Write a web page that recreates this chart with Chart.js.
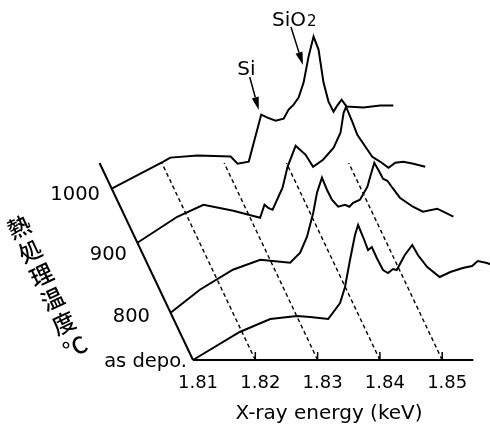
<!DOCTYPE html>
<html><head><meta charset="utf-8">
<script src="https://cdn.jsdelivr.net/npm/chart.js@4.4.1/dist/chart.umd.min.js"></script>
<style>html,body{margin:0;padding:0;background:#fff;}canvas{display:block;}</style>
</head><body>
<canvas id="c" width="490" height="428"></canvas>
<script>
// ---------------- data ----------------
const seriesNames = ['as depo.', '800', '900', '1000'];

const energyAsDepo = [1.8100,1.8175,1.8224,1.8267,1.8288,1.8317,1.8336,1.8344,1.8352,1.8360,1.8365,1.8373,1.8381,1.8387,1.8395,1.8405,1.8413,1.8421,1.8427,1.8440,1.8452,1.8461,1.8476,1.8496,1.8513,1.8533,1.8548,1.8557,1.8572,1.8580];
const intensityAsDepo = [0,2.8,4.1,4.4,4.3,4.1,5.7,7.3,10.0,12.5,13.5,12.3,11.0,11.3,10.2,9.0,8.7,9.1,9.0,10.5,11.5,10.5,9.3,8.3,8.8,9.2,9.4,9.9,9.7,9.5];

const energy800 = [1.8100,1.8147,1.8200,1.8244,1.8292,1.8308,1.8319,1.8329,1.8335,1.8343,1.8351,1.8359,1.8369,1.8380,1.8387,1.8393,1.8404,1.8416,1.8419,1.8427,1.8436,1.8441,1.8448,1.8456,1.8468,1.8489,1.8505,1.8528,1.8554];
const intensity800 = [0,2.3,4.3,5.3,5.0,6.0,7.6,10.0,12.0,13.5,12.3,11.3,10.6,10.8,10.6,11.0,11.3,12.6,13.3,15.0,14.0,13.4,13.2,12.5,11.5,10.6,10.1,10.4,9.6];

const energy900 = [1.8100,1.8164,1.8206,1.8254,1.8297,1.8304,1.8310,1.8317,1.8333,1.8341,1.8354,1.8370,1.8382,1.8398,1.8415,1.8426,1.8431,1.8435,1.8445,1.8453,1.8466,1.8477,1.8490,1.8503,1.8514,1.8527,1.8543,1.8562];
const intensity900 = [0,2.6,3.8,3.2,2.5,3.8,3.5,3.3,5.5,7.6,9.7,8.8,7.6,8.3,9.5,11.0,13.0,13.6,12.1,10.8,9.6,8.6,8.1,7.5,8.0,8.1,7.9,7.6];

const energy1000 = [1.8100,1.8183,1.8194,1.8238,1.8291,1.8302,1.8320,1.8340,1.8350,1.8363,1.8376,1.8384,1.8392,1.8400,1.8408,1.8416,1.8424,1.8432,1.8440,1.8448,1.8456,1.8462,1.8469,1.8477,1.8504,1.8531,1.8552];
const intensity1000 = [0,2.7,3.1,3.3,3.2,2.5,2.7,7.4,7.1,6.8,7.0,7.9,8.4,9.1,10.6,13.2,15.2,13.9,10.6,8.7,7.7,8.3,8.9,8.2,8.1,8.3,8.3];

const xTickValues = [1.81, 1.82, 1.83, 1.84, 1.85];
const xAxisTitle = 'X-ray energy (keV)';
const depthAxisTitle = ['熱', '処', '理', '温', '度', '°C'];

// peak markers on the 1000 spectrum: label, arrow-tip energy, arrow-tip intensity
const peakLabels = ['Si', 'SiO2'];
const peakTipEnergy = [1.8336, 1.8407];
const peakTipIntensity = [7.86, 12.36];

// ---------------- layout / pseudo-3D projection ----------------
const seriesEnergy = [energyAsDepo, energy800, energy900, energy1000];
const seriesIntensity = [intensityAsDepo, intensity800, intensity900, intensity1000];
const seriesDepth = [0, 0.24, 0.595, 0.87];      // position along the depth axis (0..1)
const DEPTH_DE = -0.0150;                         // full depth shift in energy units
const DEPTH_DI = 19.7;                            // full depth shift in intensity units
const X_MIN = 1.805987, X_MAX = 1.857672;
const Y_MIN = 0, Y_MAX = 36;
const X_AXIS_END = 1.855;
const TICK_LEN = 0.8;
const labelShift = [[-6, 7], [-20.6, 9.3], [-10.4, 17.2], [-11.7, 11.4]];
const arrowTail = [[-9, -33], [-12, -38]];
const peakLabelPos = [[-12.3, -35], [-31, -39]];
const FONT = '"DejaVu Sans", "Liberation Sans", sans-serif';

function project(E, I, d) { return { x: E + d * DEPTH_DE, y: I + d * DEPTH_DI }; }

const base = { showLine: true, pointRadius: 0, borderColor: '#000', fill: false, tension: 0, clip: false, borderWidth: 2 };
const datasets = [];
xTickValues.slice(1).forEach(t => {
  datasets.push(Object.assign({}, base, { data: [project(t, 0, 0), project(t, 0, 1)], borderDash: [4, 3], borderWidth: 1.4 }));
  datasets.push(Object.assign({}, base, { data: [{ x: t, y: 0 }, { x: t, y: TICK_LEN }], borderWidth: 1.5 }));
});
datasets.push(Object.assign({}, base, { data: [project(xTickValues[0], 0, 0), project(xTickValues[0], 0, 1)] }));
datasets.push(Object.assign({}, base, { data: [{ x: xTickValues[0], y: 0 }, { x: X_AXIS_END, y: 0 }] }));
seriesEnergy.forEach((es, i) => {
  datasets.push(Object.assign({}, base, {
    label: seriesNames[i],
    data: es.map((e, j) => project(e, seriesIntensity[i][j], seriesDepth[i]))
  }));
});

const textPlugin = {
  id: 'texts',
  afterDraw(chart) {
    const ctx = chart.ctx, xs = chart.scales.x, ys = chart.scales.y;
    const px = (E, I, d) => { const p = project(E, I, d); return [xs.getPixelForValue(p.x), ys.getPixelForValue(p.y)]; };
    ctx.save();
    ctx.fillStyle = '#000'; ctx.strokeStyle = '#000';
    // depth labels
    ctx.font = '19.5px ' + FONT;
    ctx.textAlign = 'right'; ctx.textBaseline = 'alphabetic';
    seriesNames.forEach((n, i) => {
      const [x, y] = px(xTickValues[0], 0, seriesDepth[i]);
      ctx.fillText(n, x + labelShift[i][0], y + labelShift[i][1]);
    });
    // depth axis title, written along the slanted axis
    const ang = 25 * Math.PI / 180;
    ctx.font = '500 23px "Noto Sans CJK JP", sans-serif';
    ctx.textAlign = 'center'; ctx.textBaseline = 'middle';
    depthAxisTitle.forEach((ch, i) => {
      ctx.save();
      ctx.translate(19 + i * 26.5 * Math.sin(ang), 227 + i * 26.5 * Math.cos(ang));
      ctx.rotate(-ang);
      ctx.fillText(ch, 0, 0);
      ctx.restore();
    });
    // peak arrows + labels
    const d = seriesDepth[3];
    peakLabels.forEach((lab, i) => {
      const [tx, ty] = px(peakTipEnergy[i], peakTipIntensity[i], d);
      const sx = tx + arrowTail[i][0], sy = ty + arrowTail[i][1];
      const len = Math.hypot(tx - sx, ty - sy), ux = (tx - sx) / len, uy = (ty - sy) / len;
      const hl = 13, hw = 3.6;
      ctx.lineWidth = 1.5;
      ctx.beginPath(); ctx.moveTo(sx, sy); ctx.lineTo(tx - ux * hl, ty - uy * hl); ctx.stroke();
      ctx.beginPath();
      ctx.moveTo(tx, ty);
      ctx.lineTo(tx - ux * hl - uy * hw, ty - uy * hl + ux * hw);
      ctx.lineTo(tx - ux * hl + uy * hw, ty - uy * hl - ux * hw);
      ctx.closePath(); ctx.fill();
      ctx.textBaseline = 'alphabetic';
      const lx = tx + peakLabelPos[i][0], ly = ty + peakLabelPos[i][1];
      if (lab === 'SiO2') {
        ctx.textAlign = 'left';
        ctx.font = '20px ' + FONT;
        ctx.fillText('SiO', lx, ly);
        const w = ctx.measureText('SiO').width;
        ctx.font = '15px ' + FONT;
        ctx.fillText('2', lx + w + 1, ly);
      } else {
        ctx.textAlign = 'center';
        ctx.font = '20px ' + FONT;
        ctx.fillText(lab, lx, ly);
      }
    });
    ctx.restore();
  }
};

new Chart(document.getElementById('c'), {
  type: 'scatter',
  data: { datasets },
  options: {
    responsive: false, animation: false, events: [],
    layout: { padding: { left: 168, right: 0, top: 0, bottom: 0 } },
    plugins: { legend: { display: false }, tooltip: { enabled: false } },
    scales: {
      x: {
        type: 'linear', position: 'bottom', bounds: 'data',
        afterDataLimits: s => { s.min = X_MIN; s.max = X_MAX; },
        afterBuildTicks: s => { s.min = X_MIN; s.max = X_MAX; s.ticks = xTickValues.map(v => ({ value: v })); },
        grid: { display: false, drawTicks: false },
        border: { display: false },
        afterFit: s => { s.height = 68; },
        ticks: { font: { family: FONT, size: 18 }, color: '#000', padding: 13, labelOffset: 5,
                 autoSkip: false, maxRotation: 0, callback: v => Number(v).toFixed(2) },
        title: { display: true, text: xAxisTitle, color: '#000', font: { family: FONT, size: 20 },
                 padding: { top: 0, bottom: 2 } }
      },
      y: { type: 'linear', display: false, bounds: 'data',
           afterDataLimits: s => { s.min = Y_MIN; s.max = Y_MAX; },
           afterBuildTicks: s => { s.min = Y_MIN; s.max = Y_MAX; } }
    }
  },
  plugins: [textPlugin]
});
</script>
</body></html>
